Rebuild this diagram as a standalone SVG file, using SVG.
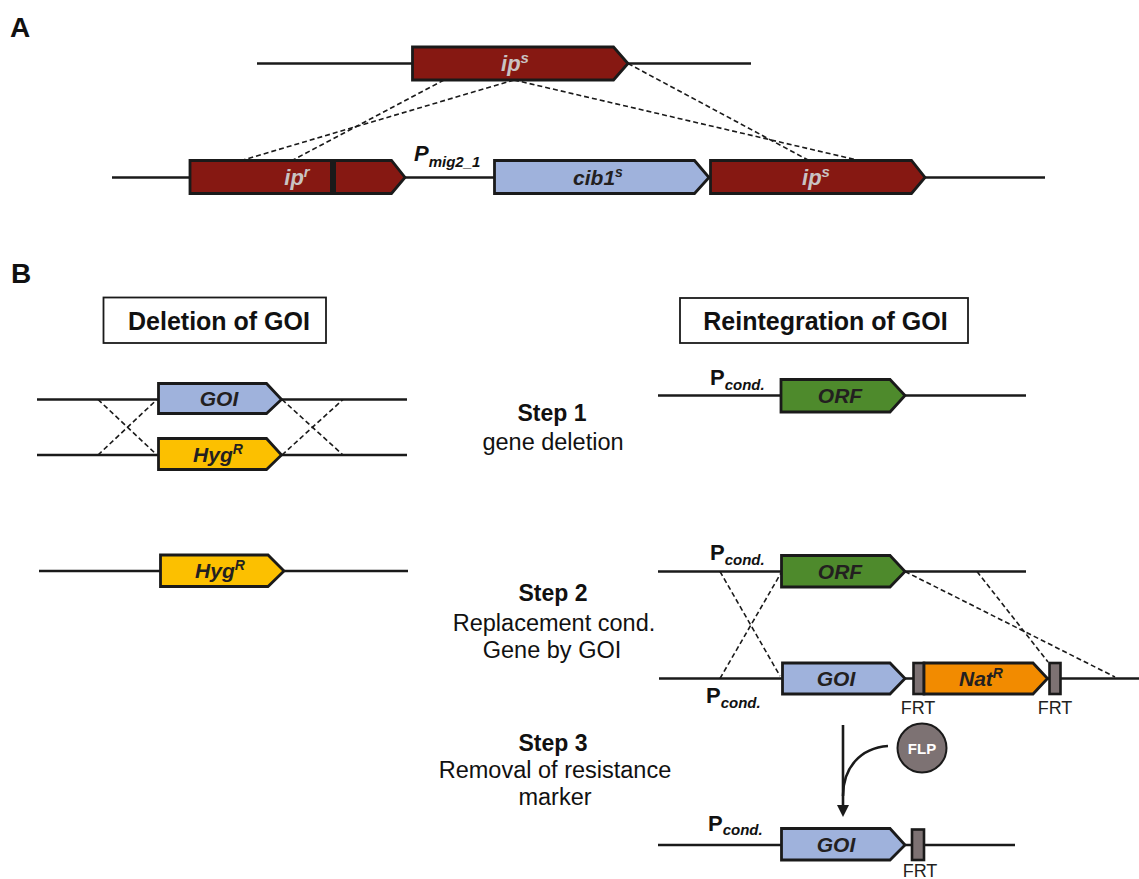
<svg xmlns="http://www.w3.org/2000/svg" width="1139" height="879" viewBox="0 0 1139 879">
<defs>
<style>
text{font-family:"Liberation Sans",Arial,sans-serif;}
.dna{stroke:#1a1a1a;stroke-width:2.7;fill:none;}
.dash{stroke:#1a1a1a;stroke-width:1.6;stroke-dasharray:5,3;fill:none;}
.gene{stroke:#1a1a1a;stroke-width:2.8;stroke-linejoin:miter;}
.red{fill:#861812;}
.blue{fill:#9fb2dc;}
.yellow{fill:#fcc000;}
.green{fill:#4e8a2c;}
.orange{fill:#f28b00;}
.frt{fill:#7d7273;stroke:#1a1a1a;stroke-width:2.6;}
.glab{font-weight:bold;font-style:italic;font-size:21px;text-anchor:middle;fill:#231f20;}
.glab-lt{font-weight:bold;font-style:italic;font-size:22px;text-anchor:middle;fill:#c9c3c3;}
.panel{font-weight:bold;font-size:28px;fill:#111;}
.hdr{font-weight:bold;font-size:25px;text-anchor:middle;fill:#111;}
.step{font-weight:bold;font-size:23px;text-anchor:middle;fill:#111;}
.desc{font-size:23.5px;text-anchor:middle;fill:#111;}
.frtl{font-size:18px;text-anchor:middle;fill:#231f20;}
.pP{font-weight:bold;font-size:22px;fill:#111;}
.psub{font-weight:bold;font-style:italic;font-size:15px;fill:#111;}
.hbox{fill:#fff;stroke:#1a1a1a;stroke-width:1.8;}
</style>
</defs>
<rect width="1139" height="879" fill="#fff"/>

<text class="panel" x="10" y="37">A</text>
<text class="panel" x="11" y="283">B</text>

<!-- backbone lines -->
<g id="lines">
<line class="dna" x1="257" y1="63.5" x2="751" y2="63.5"/>
<line class="dna" x1="112" y1="177.5" x2="1045" y2="177.5"/>
<line class="dna" x1="37" y1="399.5" x2="407" y2="399.5"/>
<line class="dna" x1="37" y1="455" x2="407" y2="455"/>
<line class="dna" x1="39" y1="571" x2="408" y2="571"/>
<line class="dna" x1="658" y1="395.5" x2="1026" y2="395.5"/>
<line class="dna" x1="658" y1="571.5" x2="1026" y2="571.5"/>
<line class="dna" x1="659" y1="678.5" x2="1139" y2="678.5"/>
<line class="dna" x1="658" y1="845" x2="1015" y2="845"/>
</g>

<!-- connectors -->
<g id="connectors">
<line class="dash" x1="444" y1="80" x2="293" y2="160"/>
<line class="dash" x1="514" y1="80" x2="243" y2="160"/>
<line class="dash" x1="514" y1="80" x2="857" y2="160"/>
<line class="dash" x1="628" y1="63.5" x2="808" y2="160"/>
<line class="dash" x1="98" y1="399.5" x2="157" y2="455"/>
<line class="dash" x1="98" y1="455" x2="157" y2="399.5"/>
<line class="dash" x1="282" y1="399.5" x2="343" y2="455"/>
<line class="dash" x1="282" y1="455" x2="343" y2="399.5"/>
<line class="dash" x1="720" y1="571.5" x2="780" y2="676"/>
<line class="dash" x1="720" y1="678.5" x2="781" y2="573"/>
<line class="dash" x1="905" y1="571.5" x2="1115" y2="677"/>
<line class="dash" x1="977" y1="571.5" x2="1048" y2="662"/>
<line x1="843" y1="725" x2="843" y2="806" stroke="#1a1a1a" stroke-width="2.6"/>
<polygon points="837,805 849,805 843,817" fill="#1a1a1a"/>
<path d="M888,746 C860,748 843,768 843,796" fill="none" stroke="#1a1a1a" stroke-width="2.6"/>
</g>

<!-- Panel A nodes -->
<g id="ipS-top">
<polygon class="gene red" points="412.5,47 613.5,47 628,63.5 613.5,80 412.5,80"/>
<text class="glab-lt" x="515" y="71">ip<tspan font-size="15" dy="-8">s</tspan></text>
</g>
<g id="ipR">
<polygon class="gene red" points="190,160.5 391.5,160.5 405,177.5 391.5,193.5 190,193.5"/>
<rect x="330" y="160" width="6" height="34" fill="#1a1a1a"/>
<text class="glab-lt" x="297" y="185">ip<tspan font-size="15" dy="-8">r</tspan></text>
</g>
<g id="pmig">
<text x="414" y="161"><tspan class="pP" font-style="italic">P</tspan><tspan class="psub" dy="5.5">mig2_1</tspan></text>
</g>
<g id="cib1">
<polygon class="gene blue" points="494.5,160.5 694.5,160.5 709,177.5 694.5,193.5 494.5,193.5"/>
<text class="glab" x="598" y="185">cib1<tspan font-size="14" dy="-8">s</tspan></text>
</g>
<g id="ipS-bottom">
<polygon class="gene red" points="710.5,160.5 911.5,160.5 925,177.5 911.5,193.5 710.5,193.5"/>
<text class="glab-lt" x="816" y="185">ip<tspan font-size="15" dy="-8">s</tspan></text>
</g>

<!-- Headers -->
<g id="hdr-deletion">
<rect class="hbox" x="103.5" y="297.5" width="222.5" height="45.5"/>
<text class="hdr" x="219" y="330">Deletion of GOI</text>
</g>
<g id="hdr-reintegration">
<rect class="hbox" x="680" y="298" width="288" height="45"/>
<text class="hdr" x="825.5" y="330">Reintegration of GOI</text>
</g>

<!-- Left nodes -->
<g id="goi-left">
<polygon class="gene blue" points="158.5,383.5 266.5,383.5 281.5,399.5 266.5,413.5 158.5,413.5"/>
<text class="glab" x="219" y="406">GOI</text>
</g>
<g id="hyg-1">
<polygon class="gene yellow" points="158.5,438.5 266.5,438.5 281.5,455 266.5,469.5 158.5,469.5"/>
<text class="glab" x="218" y="462">Hyg<tspan font-size="14" dy="-8">R</tspan></text>
</g>
<g id="hyg-2">
<polygon class="gene yellow" points="160.5,555 268,555 284,571 268,586.5 160.5,586.5"/>
<text class="glab" x="220" y="578">Hyg<tspan font-size="14" dy="-8">R</tspan></text>
</g>

<!-- Steps -->
<g id="step1">
<text class="step" x="552" y="421">Step 1</text>
<text class="desc" x="553" y="450">gene deletion</text>
</g>
<g id="step2">
<text class="step" x="553" y="601">Step 2</text>
<text class="desc" x="554" y="631">Replacement cond.</text>
<text class="desc" x="552" y="658">Gene by GOI</text>
</g>
<g id="step3">
<text class="step" x="553" y="751">Step 3</text>
<text class="desc" x="555" y="778">Removal of resistance</text>
<text class="desc" x="555" y="805">marker</text>
</g>

<!-- Right nodes -->
<g id="orf-1">
<text x="710" y="385"><tspan class="pP">P</tspan><tspan class="psub" dy="4.5">cond.</tspan></text>
<polygon class="gene green" points="781,379.5 890,379.5 905,395.5 890,412 781,412"/>
<text class="glab" x="840" y="403">ORF</text>
</g>
<g id="orf-2">
<text x="710" y="560"><tspan class="pP">P</tspan><tspan class="psub" dy="5">cond.</tspan></text>
<polygon class="gene green" points="781.5,555.5 890,555.5 905,571.5 890,587 781.5,587"/>
<text class="glab" x="840" y="579">ORF</text>
</g>
<g id="goi-step2">
<text x="706" y="703"><tspan class="pP">P</tspan><tspan class="psub" dy="4.5">cond.</tspan></text>
<polygon class="gene blue" points="782.5,663 890,663 905,678.5 890,694 782.5,694"/>
<text class="glab" x="836" y="686">GOI</text>
</g>
<g id="frt-1">
<rect class="frt" x="913.5" y="663" width="10.5" height="31"/>
<text class="frtl" x="918" y="714">FRT</text>
</g>
<g id="natR">
<polygon class="gene orange" points="924,663 1033,663 1047.5,678.5 1033,694 924,694"/>
<text class="glab" x="981" y="686">Nat<tspan font-size="14" dy="-8">R</tspan></text>
</g>
<g id="frt-2">
<rect class="frt" x="1049.5" y="663" width="11" height="31"/>
<text class="frtl" x="1055" y="714">FRT</text>
</g>
<g id="flp">
<circle cx="922" cy="748" r="24.5" fill="#7d7273" stroke="#1a1a1a" stroke-width="2"/>
<text x="922" y="754" text-anchor="middle" font-weight="bold" font-size="15" fill="#fff">FLP</text>
</g>
<g id="goi-final">
<text x="708" y="830.5"><tspan class="pP">P</tspan><tspan class="psub" dy="4.5">cond.</tspan></text>
<polygon class="gene blue" points="781.5,828.5 890,828.5 905,845 890,860 781.5,860"/>
<text class="glab" x="836" y="852">GOI</text>
<rect class="frt" x="912" y="829.5" width="12" height="30.5"/>
<text class="frtl" x="920" y="877">FRT</text>
</g>
</svg>
